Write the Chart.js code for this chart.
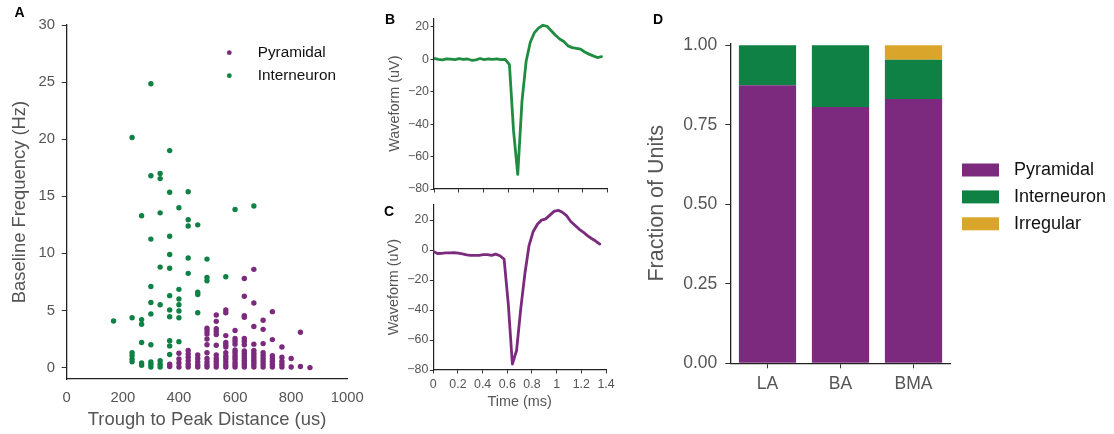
<!DOCTYPE html>
<html>
<head>
<meta charset="utf-8">
<script src="https://cdn.jsdelivr.net/npm/chart.js@4.4.0/dist/chart.umd.min.js"></script>
<style>
html,body{margin:0;padding:0;background:#fff;}
#fig{position:relative;width:1114px;height:434px;overflow:hidden;}
#fig canvas{position:absolute;}
</style>
</head>
<body>
<div id="fig">
  <canvas id="scatter" width="370" height="434" style="left:0;top:0"></canvas>
  <canvas id="waveB" width="250" height="200" style="left:370px;top:0"></canvas>
  <canvas id="waveC" width="250" height="244" style="left:370px;top:190px"></canvas>
  <canvas id="frac" width="484" height="434" style="left:630px;top:0"></canvas>
</div>
<script>
// ---- data ----
// panel A: trough-to-peak (us) columns and the baseline rates (Hz) found in each
const pyrCols = [367, 400, 433, 467, 500, 533, 567, 600, 633, 667, 700, 733, 767, 800, 833, 867];
const pyrFreq = [
  [0.1, 0.3],
  [0.05, 0.4, 0.75, 1.25],
  [0.05, 0.3, 0.6, 0.9, 1.2, 1.5],
  [0.05, 0.25, 0.5, 0.8, 1.1],
  [0.05, 0.25, 0.5, 0.8, 1.3, 2.0, 2.5, 2.95, 3.2, 3.45],
  [0.05, 0.3, 0.55, 0.8, 1.1, 1.95, 2.9, 3.15, 3.4, 4.05, 4.6],
  [0.05, 0.25, 0.5, 0.75, 1.0, 1.3, 1.8, 2.0, 2.2, 2.8, 4.8, 5.05],
  [0.05, 0.25, 0.45, 0.7, 0.9, 1.1, 1.35, 1.55, 2.05, 2.3, 2.55, 3.25],
  [0.05, 0.25, 0.45, 0.65, 0.85, 1.05, 1.25, 1.45, 2.0, 2.3, 2.55, 4.4, 4.55, 6.25, 7.8],
  [0.05, 0.25, 0.45, 0.65, 0.85, 1.05, 1.25, 1.5, 2.05, 3.6, 5.65, 8.6],
  [0.05, 0.3, 0.55, 0.8, 1.05, 1.3, 2.1, 3.35, 4.15],
  [0.05, 0.3, 0.55, 0.8, 1.05, 2.45, 4.9],
  [0.05, 0.3, 0.55, 0.9, 1.8],
  [0.05, 0.8],
  [0.1, 3.1],
  [0.0]
];
const intCols = [167, 233, 267, 300, 333, 367, 400, 433, 467, 500, 567, 600, 667];
const intFreq = [
  [4.08],
  [0.5, 0.75, 1.05, 1.3, 4.37, 20.15],
  [0.2, 0.4, 2.2, 3.8, 4.2, 13.3],
  [0.05, 0.3, 0.5, 2.0, 4.7, 5.7, 7.1, 11.25, 16.8, 24.85],
  [0.05, 0.3, 0.6, 5.5, 8.8, 13.55, 16.55, 17.0],
  [1.15, 1.9, 2.35, 4.45, 5.05, 6.3, 8.7, 9.9, 11.5, 15.35, 19.0],
  [2.27, 4.37, 4.95, 5.5, 6.0, 6.85, 14.0],
  [8.25, 9.6, 12.4, 12.95, 15.4],
  [4.8, 6.4, 6.6, 12.5],
  [7.6, 7.9, 9.5],
  [7.95],
  [13.85],
  [14.15]
];
const aXTicks = [0, 200, 400, 600, 800, 1000];
const aYTicks = [0, 5, 10, 15, 20, 25, 30];

// panels B and C: mean waveforms (uV) against time (ms)
const waveTime = [0, 0.034, 0.068, 0.101, 0.135, 0.169, 0.203, 0.236, 0.27, 0.304, 0.338,
  0.371, 0.405, 0.439, 0.473, 0.506, 0.54, 0.574, 0.608, 0.641, 0.675, 0.709, 0.743, 0.776,
  0.81, 0.844, 0.878, 0.911, 0.945, 0.979, 1.013, 1.046, 1.08, 1.114, 1.148, 1.181, 1.215,
  1.249, 1.283, 1.316, 1.35];
const waveInter = [0.6, 0.0, -0.4, 0.3, 0.1, -0.2, 0.4, -0.1, 0.2, -0.6, -0.3, 0.5, -0.2,
  0.2, -0.1, 0.3, -0.2, 0.0, -3.3, -44, -71, -26, -1, 10.5, 16.5, 19.4, 21, 20.4, 17.6,
  14.8, 12.5, 11, 8.3, 7.2, 6.8, 6.3, 4.5, 3.2, 2.1, 1.1, 1.6];
const wavePyr = [-0.9, -2.3, -2.2, -1.9, -1.9, -1.8, -2.0, -2.6, -3.2, -3.5, -3.6, -3.5,
  -3.1, -3.0, -3.6, -2.7, -3.8, -6, -36, -76, -67, -39, -15.5, 3, 12.4, 17.2, 20, 20.8,
  23.3, 25.8, 26.5, 25.2, 23, 19, 16.5, 14, 12, 9.6, 7.7, 6, 4];
const waveXTicks = [0, 0.2, 0.4, 0.6, 0.8, 1, 1.2, 1.4];
const waveYTicks = [-80, -60, -40, -20, 0, 20];

// panel D: fraction of units per region
const regions = ['LA', 'BA', 'BMA'];
const fracPyr = [0.874, 0.806, 0.831];
const fracInter = [0.126, 0.194, 0.123];
const fracIrreg = [0, 0, 0.046];
const fracTicks = [0, 0.25, 0.5, 0.75, 1];

// ---- styling ----
const FONT = "'Liberation Sans', Arial, Helvetica, sans-serif";
const GREY = '#555555';
const PURPLE = '#7b2a7e';
const GREEN = '#108144';
const GOLD = '#daa52b';

const fixW = w => s => { s.width = w; s.paddingTop = 0; s.paddingBottom = 0; };
const fixH = h => s => { s.height = h; s.paddingLeft = 0; s.paddingRight = 0; };
const setTicks = vals => s => { s.ticks = vals.map(v => ({value: v})); };
const minus = v => (v < 0 ? '\u2212' + Math.abs(v) : String(v));
const font = size => ({family: FONT, size: size});

function columns(xs, ys) {
  const pts = [];
  xs.forEach((x, i) => ys[i].forEach(y => pts.push({x: x, y: y})));
  return pts;
}
function series(t, v) { return t.map((x, i) => ({x: x, y: v[i]})); }

// panel letters and hand placed legends
const extras = {
  id: 'extras',
  afterDraw(chart, args, o) {
    const ctx = chart.ctx;
    ctx.save();
    if (o.letter) {
      ctx.font = 'bold 14px ' + FONT;
      ctx.fillStyle = '#000';
      ctx.textAlign = 'center';
      ctx.textBaseline = 'middle';
      ctx.fillText(o.letter.text, o.letter.x, o.letter.y);
    }
    if (o.legend) {
      const L = o.legend;
      chart.data.datasets.forEach((ds, i) => {
        const cy = L.y + i * L.gap;
        ctx.fillStyle = ds.backgroundColor;
        if (L.marker === 'dot') {
          ctx.beginPath();
          ctx.arc(L.x, cy, L.r, 0, Math.PI * 2);
          ctx.fill();
        } else {
          ctx.fillRect(L.x, cy - L.h / 2, L.w, L.h);
        }
        ctx.fillStyle = '#111';
        ctx.font = L.size + 'px ' + FONT;
        ctx.textAlign = 'left';
        ctx.textBaseline = 'middle';
        ctx.fillText(ds.label, L.tx, cy);
      });
    }
    ctx.restore();
  }
};
Chart.register(extras);

const base = {responsive: false, animation: false, events: []};
const tickMarks = len => ({display: true, drawOnChartArea: false, drawTicks: true, tickLength: len, color: '#333', lineWidth: 1});

// ---- A: scatter ----
new Chart(document.getElementById('scatter'), {
  type: 'scatter',
  data: {datasets: [
    {label: 'Pyramidal', data: columns(pyrCols, pyrFreq), backgroundColor: PURPLE, pointRadius: 2.7, borderWidth: 0},
    {label: 'Interneuron', data: columns(intCols, intFreq), backgroundColor: GREEN, pointRadius: 2.7, borderWidth: 0}
  ]},
  options: Object.assign({}, base, {
    layout: {padding: {top: 25, right: 22.7, left: 0, bottom: 0}},
    plugins: {
      legend: {display: false}, tooltip: {enabled: false},
      extras: {
        letter: {text: 'A', x: 19.5, y: 13.3},
        legend: {marker: 'dot', x: 229.3, y: 52.7, gap: 23, r: 2.4, tx: 257.7, size: 15.3}
      }
    },
    scales: {
      x: {
        type: 'linear', min: 0, max: 1000,
        afterBuildTicks: setTicks(aXTicks), afterFit: fixH(55),
        grid: {display: false, drawTicks: false},
        border: {color: '#222', width: 1.3},
        ticks: {padding: 10.4, color: GREY, font: font(14.8), callback: v => String(v)},
        title: {display: true, text: 'Trough to Peak Distance (us)', color: GREY, font: font(18.4), padding: {top: 0, bottom: 3}}
      },
      y: {
        min: -1, max: 30,
        afterBuildTicks: setTicks(aYTicks), afterFit: fixW(66.7),
        grid: tickMarks(5),
        border: {color: '#222', width: 1.3},
        ticks: {padding: 6.7, color: GREY, font: font(14.8)},
        title: {display: true, text: 'Baseline Frequency (Hz)', color: GREY, font: font(18.4), padding: {top: 9, bottom: 0}}
      }
    }
  })
});

// ---- B and C: waveforms ----
function wave(id, label, values, color, opt) {
  return new Chart(document.getElementById(id), {
    type: 'line',
    data: {datasets: [{
      label: label, data: series(waveTime, values), borderColor: color, backgroundColor: color,
      borderWidth: 2.8, pointRadius: 0, tension: 0, fill: false, borderJoinStyle: 'round', borderCapStyle: 'round'
    }]},
    options: Object.assign({}, base, {
      layout: {padding: {top: opt.top, right: opt.right, left: 0, bottom: 0}},
      plugins: {legend: {display: false}, tooltip: {enabled: false}, extras: {letter: opt.letter}},
      scales: {
        x: {
          type: 'linear', min: 0, max: 1.4,
          afterBuildTicks: setTicks(waveXTicks), afterFit: fixH(opt.xh),
          grid: tickMarks(3.5),
          border: {color: '#222', width: 1.2},
          ticks: {display: opt.xlabels, padding: 3.4, color: GREY, font: font(12.4),
                  callback: v => String(+v.toFixed(1))},
          title: {display: opt.xlabels, text: 'Time (ms)', color: GREY, font: font(14.4), padding: {top: 0, bottom: 23.7}}
        },
        y: {
          min: -80, max: opt.ymax,
          afterBuildTicks: setTicks(waveYTicks), afterFit: fixW(opt.yw),
          grid: tickMarks(3.5),
          border: {color: '#222', width: 1.2},
          ticks: {padding: 1.5, color: GREY, font: font(12.4), callback: v => minus(v)},
          title: {display: true, text: 'Waveform (uV)', color: GREY, font: font(14.4), padding: {top: opt.tp, bottom: 0}}
        }
      }
    })
  });
}
wave('waveB', 'Interneuron', waveInter, '#1f8c3f',
  {top: 18.3, right: 12.3, xh: 11, yw: 64, ymax: 25.3, xlabels: false, tp: 16.4, letter: {text: 'B', x: 20, y: 20.5}});
wave('waveC', 'Pyramidal', wavePyr, PURPLE,
  {top: 14.3, right: 14, xh: 64, yw: 63.3, ymax: 30.5, xlabels: true, tp: 15.4, letter: {text: 'C', x: 19, y: 21.7}});

// ---- D: stacked fractions ----
new Chart(document.getElementById('frac'), {
  type: 'bar',
  data: {
    labels: regions,
    datasets: [
      {label: 'Pyramidal', data: fracPyr, backgroundColor: PURPLE},
      {label: 'Interneuron', data: fracInter, backgroundColor: GREEN},
      {label: 'Irregular', data: fracIrreg, backgroundColor: GOLD}
    ]
  },
  options: Object.assign({}, base, {
    datasets: {bar: {barPercentage: 0.784, categoryPercentage: 1, borderWidth: 0}},
    layout: {padding: {top: 43.3, right: 164, left: 0, bottom: 0}},
    plugins: {
      legend: {display: false}, tooltip: {enabled: false},
      extras: {
        letter: {text: 'D', x: 28, y: 20},
        legend: {marker: 'box', x: 332, y: 170, gap: 26.9, w: 37, h: 13, tx: 384, size: 18}
      }
    },
    scales: {
      x: {
        stacked: true, afterFit: fixH(70.7),
        grid: Object.assign(tickMarks(5), {offset: false}),
        border: {color: '#222', width: 1.3},
        ticks: {padding: 5.5, color: GREY, font: font(17.5)}
      },
      y: {
        stacked: true, min: 0, max: 1.006,
        afterBuildTicks: setTicks(fracTicks), afterFit: fixW(101),
        grid: tickMarks(5.7),
        border: {color: '#222', width: 1.3},
        ticks: {padding: 8, color: GREY, font: font(17.5), callback: v => v.toFixed(2)},
        title: {display: true, text: 'Fraction of Units', color: GREY, font: font(21.5), padding: {top: 13.8, bottom: 0}}
      }
    }
  })
});
</script>
</body>
</html>
